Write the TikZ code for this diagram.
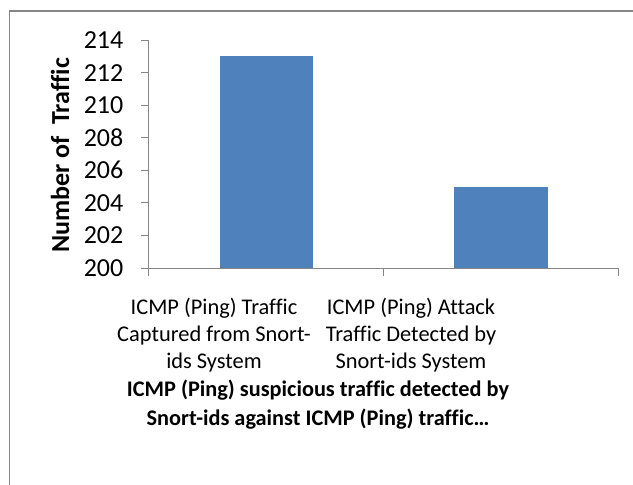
\documentclass[tikz,border=0pt]{standalone}
\usepackage{fontspec}
\setmainfont{Carlito}[Ligatures={NoCommon}]
\definecolor{barblue}{HTML}{4F81BD}
\definecolor{framegrey}{HTML}{868686}
\definecolor{axisgrey}{HTML}{868686}
\begin{document}
\begin{tikzpicture}[x=1pt,y=-1pt,
  bar/.style={fill=barblue,draw=none},
  axisline/.style={draw=axisgrey,line width=1pt},
  ticklbl/.style={anchor=east,inner sep=0pt,font=\fontsize{26}{30}\selectfont},
  catlbl/.style={align=center,inner sep=0pt,font=\fontsize{22.4}{27}\selectfont},
  titlelbl/.style={align=center,inner sep=0pt,font=\bfseries\fontsize{22.3}{29}\selectfont}]
\useasboundingbox (0,0) rectangle (633,485);
\fill[white] (0,0) rectangle (633,485);
% outer frame (right and bottom edges lie outside the picture)
\draw[framegrey,line width=1.5pt] (9.5,495) -- (9.5,11) -- (645,11);
% bars
\fill[bar] (220,268) rectangle (313.3,56.3);
\fill[bar] (454,268) rectangle (547.7,186.6);
% axes
\draw[axisline] (148.5,276) -- (148.5,40);
\draw[axisline] (148.5,268) -- (618,268);
\foreach \v [count=\i from 0] in {200,202,...,214}{
  \draw[axisline] (141,268-\i*32.57) -- (148.5,268-\i*32.57);
  \node[ticklbl] (t\v) at (123.5,268-\i*32.57) {\v};
}
\draw[axisline] (383.3,268) -- (383.3,276);
\draw[axisline] (618,268) -- (618,276);
% axis title
\node[rotate=90,inner sep=0pt,font=\bfseries\fontsize{26}{30}\selectfont] (ytitle) at (60,155.5) {Number of\ \ Traffic};
% category labels
\node[catlbl] (c1) at (214,335) {ICMP (Ping) Traffic\\Captured from Snort-\\ids System};
\node[catlbl] (c2) at (411,335) {ICMP (Ping) Attack\\Traffic Detected by\\Snort-ids System};
% chart title
\node[titlelbl] (title) at (318,404.5) {ICMP (Ping) suspicious traffic detected by\\Snort-ids against ICMP (Ping) traffic\ldots};
\end{tikzpicture}
\end{document}
